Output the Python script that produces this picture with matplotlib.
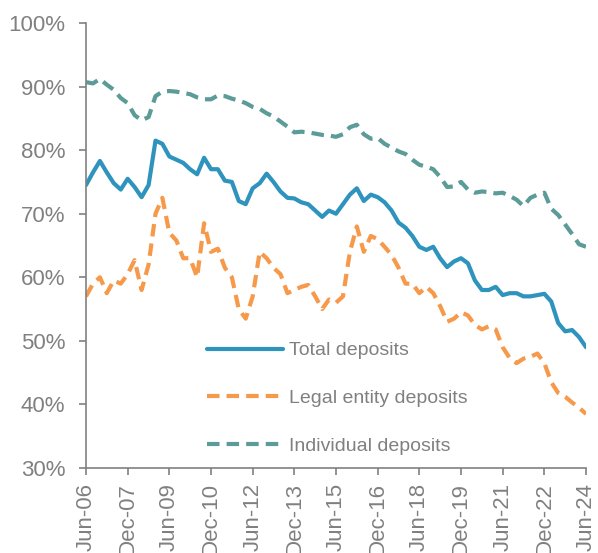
import numpy as np
import pandas as pd
import matplotlib
matplotlib.use('Agg')
import matplotlib.pyplot as plt
import matplotlib.dates as mdates
from matplotlib.ticker import FuncFormatter

# --- Data (quarterly, Jun-06 .. Jun-24), share of deposits in % ---
dates = pd.date_range('2006-06-01', '2024-06-01', freq='3MS')

total = [74.5, 76.5, 78.3, 76.5, 74.8, 73.8, 75.5, 74.2, 72.6, 74.5,
         81.5, 81.0, 79.0, 78.5, 78.0, 77.0, 76.2, 78.8, 77.0, 77.0,
         75.2, 75.0, 72.0, 71.5, 74.0, 74.8, 76.3, 75.0, 73.5, 72.5,
         72.4, 71.8, 71.5, 70.5, 69.5, 70.5, 70.0, 71.5, 73.0, 74.0,
         72.0, 73.0, 72.6, 71.8, 70.5, 68.6, 67.8, 66.5, 64.8, 64.3,
         64.8, 63.0, 61.6, 62.5, 63.0, 62.2, 59.5, 58.0, 58.0, 58.5,
         57.2, 57.5, 57.5, 57.0, 57.0, 57.2, 57.4, 56.2, 52.8, 51.5,
         51.7, 50.6, 49.0]

legal = [57.0, 59.0, 60.0, 57.5, 59.5, 59.0, 60.5, 62.7, 58.0, 62.0,
         70.0, 72.5, 67.0, 65.8, 63.0, 63.0, 60.0, 68.5, 64.0, 64.5,
         61.5, 60.0, 55.0, 53.5, 57.0, 64.0, 63.0, 61.5, 60.5, 57.5,
         58.0, 58.5, 58.8, 57.0, 55.0, 56.5, 56.0, 57.0, 64.0, 68.0,
         64.0, 66.5, 66.0, 64.8, 63.5, 61.5, 59.0, 59.0, 57.5, 58.5,
         57.5, 55.5, 53.0, 53.5, 54.5, 54.0, 52.5, 51.8, 52.3, 51.8,
         49.0, 47.3, 46.5, 47.2, 47.5, 48.0, 46.5, 43.5, 41.8, 41.2,
         40.3, 39.5, 38.5]

individual = [90.7, 90.5, 91.2, 90.3, 89.5, 88.2, 87.4, 85.5, 84.7, 85.2,
              88.5, 89.2, 89.3, 89.2, 89.0, 88.8, 88.3, 88.0, 88.0, 88.6,
              88.5, 88.1, 87.8, 87.4, 86.8, 86.5, 85.8, 85.3, 84.5, 83.7,
              82.8, 82.9, 82.8, 82.6, 82.4, 82.3, 82.1, 82.5, 83.6, 84.0,
              82.5, 81.8, 81.9, 81.0, 80.4, 79.8, 79.4, 78.5, 77.7, 77.4,
              77.0, 75.8, 74.2, 74.3, 75.0, 73.8, 73.3, 73.5, 73.4, 73.2,
              73.3, 72.8, 72.2, 71.2, 72.5, 73.0, 73.3, 70.8, 69.8, 68.3,
              66.8, 65.2, 64.8]

labels = ['Total deposits', 'Legal entity deposits', 'Individual deposits']
colors = ['#2e93bd', '#f7994a', '#5b9b98']

GREY = '#808080'
plt.rcParams['font.family'] = ['Liberation Sans', 'DejaVu Sans']

fig = plt.figure(figsize=(5.98, 5.53), dpi=100)
ax = fig.add_axes([0.1438, 0.1537, 0.8362, 0.8047])

ax.plot(dates, total, color=colors[0], lw=3, solid_capstyle='round', label=labels[0])
ax.plot(dates, legal, color=colors[1], lw=3, dashes=(3, 1.7), label=labels[1])
ax.plot(dates, individual, color=colors[2], lw=3, dashes=(3, 1.7), label=labels[2])

ax.set_ylim(30, 100)
ax.set_yticks(np.arange(30, 101, 10))
ax.yaxis.set_major_formatter(FuncFormatter(lambda v, p: f'{v:.0f}%'))

ax.set_xlim(dates[0], dates[-1])
ax.set_xticks(pd.date_range('2006-06-01', '2024-06-01', freq='18MS'))
ax.xaxis.set_major_formatter(mdates.DateFormatter('%b-%y'))
plt.setp(ax.get_xticklabels(), rotation=90)

for s in ['top', 'right']:
    ax.spines[s].set_visible(False)
for s in ['left', 'bottom']:
    ax.spines[s].set_color(GREY)
    ax.spines[s].set_linewidth(1.2)

ax.tick_params(axis='y', colors=GREY, labelsize=16, length=5, width=1.2, pad=10)
ax.tick_params(axis='x', colors=GREY, labelsize=16, length=5, width=1.2, pad=6)

leg = fig.legend(loc='upper left', bbox_to_anchor=(0.346, 0.382), frameon=False,
                 fontsize=14, handlelength=3.9, handletextpad=0.3, labelspacing=1.55,
                 borderpad=0, borderaxespad=0)
for t in leg.get_texts():
    t.set_color(GREY)

fig.savefig('out.png', dpi=100)
